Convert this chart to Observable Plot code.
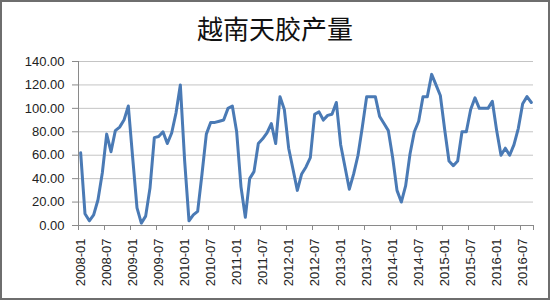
<!DOCTYPE html>
<html>
<head>
<meta charset="utf-8">
<script src="https://cdn.jsdelivr.net/npm/d3@7"></script>
<script src="https://cdn.jsdelivr.net/npm/@observablehq/plot@0.6"></script>
<style>
  html, body { margin: 0; padding: 0; background: #fff; }
  #wrap { position: relative; width: 550px; height: 300px; overflow: hidden; background: #fff; }
  #title { position: absolute; left: 0; top: 10px; width: 550px; text-align: center;
           font-family: "Noto Sans CJK SC", sans-serif; font-size: 26px; color: #111; line-height: 36px; }
  #chart { position: absolute; left: 0; top: 48px; }
  #frame { position: absolute; inset: 0; border: 2px solid #6e6e6e; pointer-events: none; }
</style>
</head>
<body>
<div id="wrap">
  <div id="title">越南天胶产量</div>
  <div id="chart"></div>
  <div id="frame"></div>
</div>
<script>
const title = "越南天胶产量";
const startMonth = "2008-01";
const values = [
  62, 10, 4, 9, 22, 45, 78, 63, 81, 84, 90, 102,
  58, 15, 2, 8, 32, 75, 76, 80, 70, 79, 96, 120,
  55, 4, 9, 12, 44, 78, 88, 88, 89, 90, 100, 102,
  80, 33, 7, 40, 46, 70, 74, 79, 87, 70, 110, 99,
  66, 48, 30, 44, 50, 58, 95, 97, 90, 94, 95, 105,
  69, 50, 31, 44, 60, 84, 110, 110, 110, 93, 87, 81,
  58, 30, 20, 34, 61, 80, 89, 110, 110, 129, 120, 111,
  82, 55, 51, 55, 80, 80, 99, 109, 100, 100, 100, 106,
  81, 60, 66, 60, 69, 83, 104, 110, 105
];
const xTickLabels = ["2008-01","2008-07","2009-01","2009-07","2010-01","2010-07","2011-01","2011-07",
  "2012-01","2012-07","2013-01","2013-07","2014-01","2014-07","2015-01","2015-07","2016-01","2016-07"];
const yTicks = [0, 20, 40, 60, 80, 100, 120, 140];

const data = values.map((v, i) => ({i, v}));
const labelIndex = xTickLabels.map((_, k) => k * 6);
const xDomain = [-0.5, values.length - 0.5];
const boundaryTicks = d3.range(xDomain[0], xDomain[1] + 0.01, 6).concat([xDomain[1]]);

const font = "'Liberation Sans', Arial, sans-serif";
const plot = Plot.plot({
  width: 550,
  height: 252,
  marginTop: 13,
  marginBottom: 75,
  marginLeft: 78,
  marginRight: 17,
  style: { fontFamily: font, fontSize: "13px", color: "#222", background: "transparent" },
  x: { domain: xDomain, axis: null },
  y: { domain: [0, 140], axis: null },
  marks: [
    Plot.gridY(yTicks, { stroke: "#c4c4c4", strokeOpacity: 1 }),
    Plot.ruleY([0], { stroke: "#8a8a8a" }),
    Plot.ruleX([xDomain[0]], { stroke: "#8a8a8a" }),
    Plot.axisY({ ticks: yTicks, tickFormat: d3.format(".2f"), tickSize: 6, tickPadding: 8,
                 stroke: "#8a8a8a", fill: "#222", fontSize: 13, label: null }),
    Plot.axisX({ ticks: boundaryTicks, tickFormat: () => "", tickSize: 5, stroke: "#8a8a8a", label: null }),
    Plot.axisX({ ticks: labelIndex, tickFormat: (d) => xTickLabels[d / 6], tickSize: 0,
                 tickPadding: 13, tickRotate: -90, fill: "#222", fontSize: 13, label: null }),
    Plot.line(data, { x: "i", y: "v", stroke: "#4a7ab5", strokeWidth: 3,
                      strokeLinejoin: "round", strokeLinecap: "round" })
  ]
});
document.getElementById("chart").appendChild(plot);
</script>
</body>
</html>
